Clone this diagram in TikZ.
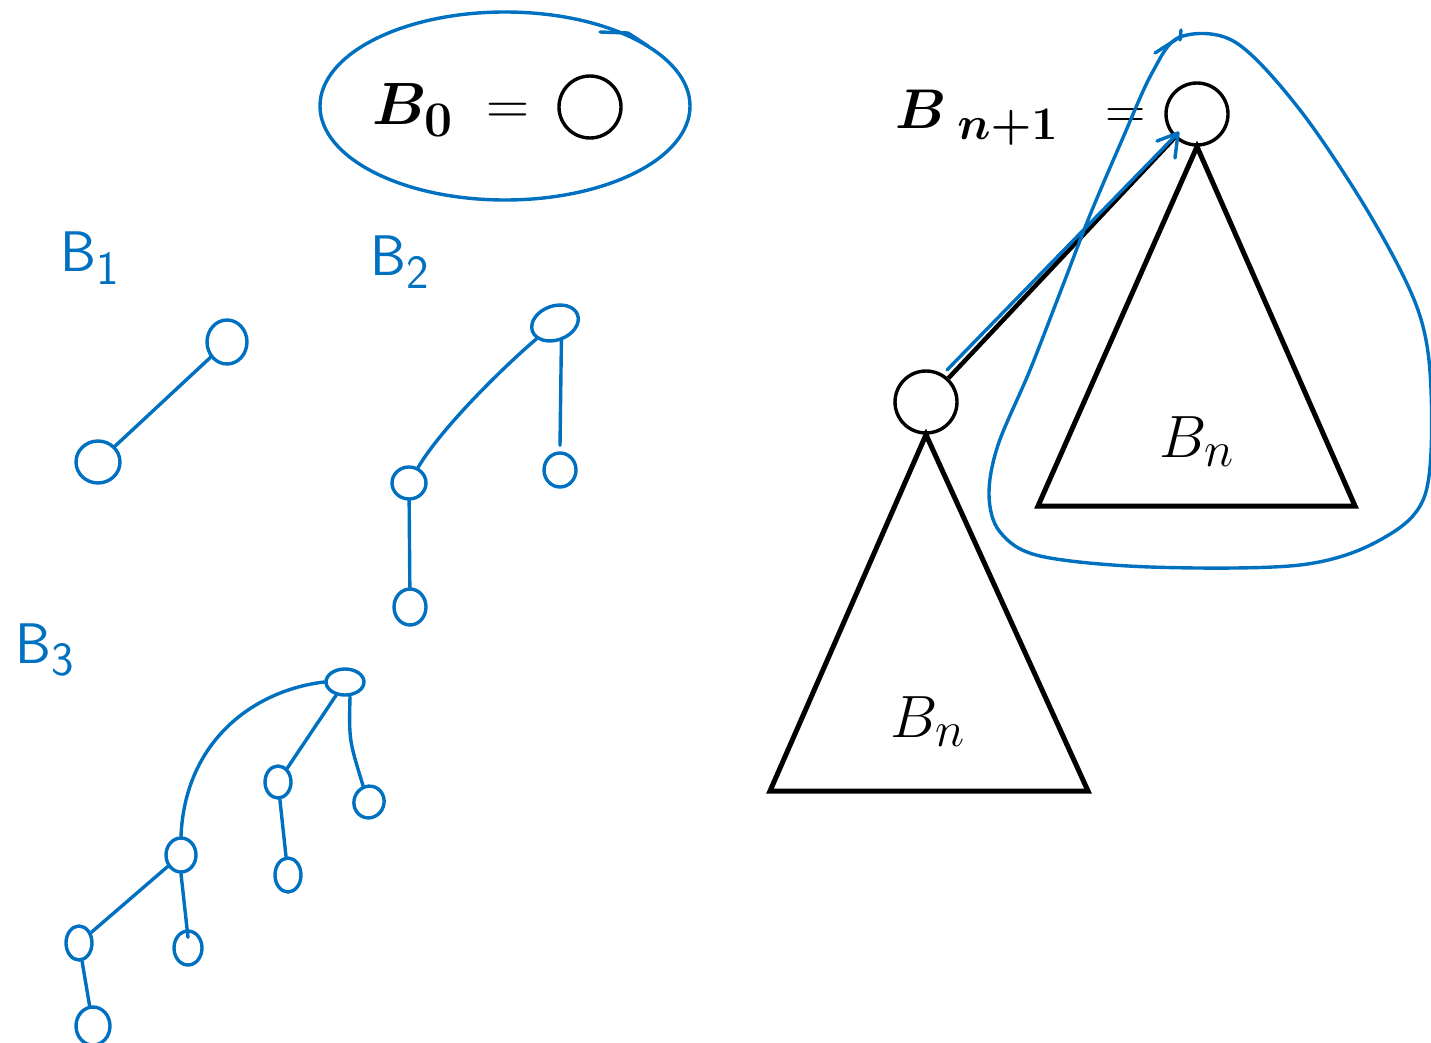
\documentclass[tikz,border=0pt]{standalone}
\usepackage{bm}
\usetikzlibrary{arrows.meta,shapes.geometric}
\definecolor{ink}{RGB}{0,112,192}
\begin{document}
\begin{tikzpicture}[x=1pt,y=-1pt,
  blk/.style={line width=5pt,line join=miter},
  bcirc/.style={circle,draw,line width=3.4pt,minimum size=62pt,inner sep=0pt},
  pen/.style={draw=ink,line width=3.4pt,line cap=round,line join=round},
  hn/.style={ellipse,draw=ink,line width=3.4pt,inner sep=0pt},
  hand/.style={text=ink,font=\sffamily\Huge,inner sep=0pt},
  big/.style={font=\Huge,inner sep=0pt}]
\useasboundingbox (0,0) rectangle (1431,1043);

% ---- B0 ----
\node[big,anchor=east] (b0t) at (530,110) {\scalebox{2.4}{$\bm{B}_{\bm 0}\;=$}};
\node[bcirc] (b0c) at (590,107) {};
\draw[pen] (505,106) ellipse [x radius=185, y radius=94];
\draw[pen] (600,32) -- (628,33) -- (648,46);

% ---- B_{n+1} ----
\node[big,anchor=east] (bnt) at (1146,118) {\scalebox{2.25}{$\bm{B}_{\;\bm{n+1}}\;\;=$}};
\node[bcirc] (R) at (1197,114) {};
\node[bcirc] (L) at (926,402) {};
\coordinate (RbL) at (1038,506);
\coordinate (RbR) at (1355,506);
\coordinate (LbL) at (770,791);
\coordinate (LbR) at (1088,791);
\draw[blk] (R.south) -- (RbL) -- (RbR) -- cycle;
\draw[blk] (L.south) -- (LbL) -- (LbR) -- cycle;
\draw[line width=4.5pt] (L) -- (R);
\node[big] (bnR) at (1197,442) {\scalebox{2.4}{$B_n$}};
\node[big] (bnL) at (928,722) {\scalebox{2.4}{$B_n$}};

% blue arrow along the link
\coordinate (ba1) at (947,370);
\coordinate (ba2) at (1178,133);
\draw[pen] (ba1) -- (ba2);
\draw[pen] (1157,141) -- (ba2) -- (1175,158);

% blue loop around right subtree
\draw[pen] plot[smooth cycle,tension=0.55] coordinates {
  (1180,37) (1235,42) (1300,110) (1370,215) (1418,310) (1431,390)
  (1425,495) (1380,540) (1300,565) (1150,567) (1040,556) (1000,532)
  (989,495) (998,445) (1030,370) (1063,285) (1090,215) (1122,140) (1152,73)};
\draw[pen] (1155,53) -- (1180,37);
\draw[pen] (1181,30) -- (1180,40);

% ---- B1 ----
\node[hand] (l1) at (90,258) {\scalebox{2.3}{B\textsubscript{1}}};
\node[hn,minimum width=40pt,minimum height=44pt] (a1) at (227,342) {};
\node[hn,minimum width=44pt,minimum height=42pt] (a2) at (98,462) {};
\draw[pen] (a1) -- (a2);

% ---- B2 ----
\node[hand] (l2) at (400,262) {\scalebox{2.3}{B\textsubscript{2}}};
\node[hn,minimum width=48pt,minimum height=34pt,rotate=20] (r2) at (555,323) {};
\node[hn,minimum width=34pt,minimum height=32pt] (r2a) at (409,483) {};
\node[hn,minimum width=32pt,minimum height=34pt] (r2b) at (560,470) {};
\node[hn,minimum width=32pt,minimum height=36pt] (r2c) at (410,607) {};
\draw[pen] (r2) .. controls (500,370) and (440,430) .. (r2a);
\draw[pen] (r2.south) -- ([yshift=6pt]r2b.north);
\draw[pen] (r2a) -- (r2c);

% ---- B3 ----
\node[hand] (l3) at (45,650) {\scalebox{2.3}{B\textsubscript{3}}};
\node[hn,minimum width=38pt,minimum height=26pt] (r3) at (345,682) {};
\node[hn,minimum width=30pt,minimum height=34pt] (c1) at (181,855) {};
\node[hn,minimum width=26pt,minimum height=32pt] (c2) at (278,782) {};
\node[hn,minimum width=30pt,minimum height=32pt,rotate=-20] (c3) at (369,802) {};
\node[hn,minimum width=26pt,minimum height=34pt] (d1) at (79,943) {};
\node[hn,minimum width=28pt,minimum height=34pt] (d2) at (188,948) {};
\node[hn,minimum width=26pt,minimum height=34pt] (e1) at (288,875) {};
\node[hn,minimum width=34pt,minimum height=38pt] (f1) at (93,1026) {};
\draw[pen] (r3.west) .. controls (255,690) and (185,740) .. (c1.north);
\draw[pen] (r3) -- (c2);
\draw[pen] ([xshift=5pt]r3.south) .. controls (349,740) .. (c3.130);
\draw[pen] (c1) -- (d1);
\draw[pen] (c1.south) -- ([yshift=-8pt]d2.north);
\draw[pen] (c2) -- (e1);
\draw[pen] (d1) -- (f1);
\end{tikzpicture}
\end{document}
